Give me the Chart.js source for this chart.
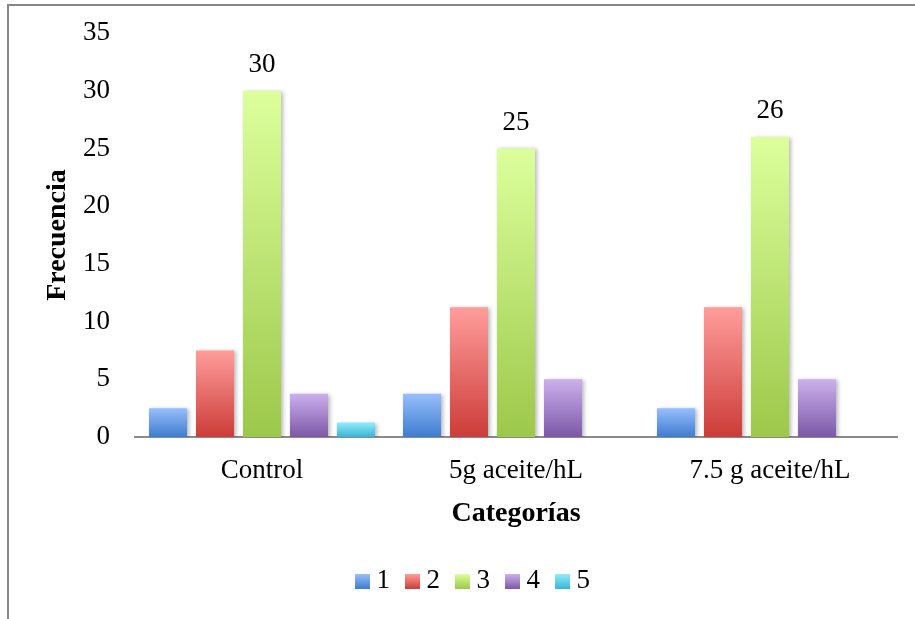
<!DOCTYPE html>
<html>
<head>
<meta charset="utf-8">
<script src="https://cdn.jsdelivr.net/npm/chart.js@4/dist/chart.umd.min.js"></script>
<style>
  html, body { margin: 0; padding: 0; background: #fff; overflow: hidden; }
  #frame { position: absolute; left: 7px; top: 4px; width: 1200px; height: 900px;
           border-top: 2px solid #878787; border-left: 2px solid #878787; }
  #wrap { position: absolute; left: 0; top: 0; width: 915px; height: 619px; }
</style>
</head>
<body>
<div id="frame"></div>
<div id="wrap"><canvas id="chart" width="915" height="619"></canvas></div>
<script>
// Categories and series values
const categories = ['Control', '5g aceite/hL', '7.5 g aceite/hL'];
const seriesNames = ['1', '2', '3', '4', '5'];
const serie1 = [2.5, 3.75, 2.5];
const serie2 = [7.5, 11.25, 11.25];
const serie3 = [30, 25, 26];
const serie4 = [3.75, 5, 5];
const serie5 = [1.25, 0, 0];
const yMin = 0, yMax = 35, yStep = 5;
const labelledSeries = 2; // only series "3" carries value labels

// Gradient colour pairs (top, bottom) for each series
const palette = [
  ['#97bffc', '#3e7ccf'],
  ['#ff9d9b', '#cc3c38'],
  ['#dcff9c', '#9cc84a'],
  ['#cbb0ec', '#7c58a8'],
  ['#92ecfc', '#38b4d4']
];

const FONT = "'Liberation Serif', 'Times New Roman', serif";
Chart.defaults.font.family = FONT;
Chart.defaults.color = '#000';

function barGradient(top, bottom) {
  return (c) => {
    if (c.type !== 'data') return bottom;
    const chart = c.chart;
    const y = chart.scales && chart.scales.y;
    if (!y) return bottom;
    const y0 = y.getPixelForValue(0);
    const y1 = y.getPixelForValue(c.raw);
    if (!isFinite(y0) || !isFinite(y1) || y0 === y1) return bottom;
    const g = chart.ctx.createLinearGradient(0, y1, 0, y0);
    g.addColorStop(0, top);
    g.addColorStop(1, bottom);
    return g;
  };
}

const seriesValues = [serie1, serie2, serie3, serie4, serie5];
const datasets = seriesValues.map((vals, i) => ({
  label: seriesNames[i],
  data: vals,
  backgroundColor: barGradient(palette[i][0], palette[i][1]),
  borderWidth: 0,
  categoryPercentage: 0.925,
  barPercentage: 0.81
}));

// Soft shadow behind the bars
const barShadow = {
  id: 'barShadow',
  beforeDatasetsDraw(chart) {
    const c = chart.ctx;
    c.save();
    c.shadowColor = 'rgba(0,0,0,0.28)';
    c.shadowBlur = 4;
    c.shadowOffsetX = 2;
    c.shadowOffsetY = 1;
  },
  afterDatasetsDraw(chart) { chart.ctx.restore(); }
};

// Value labels above the bars of one series, and gradient legend swatches
const decorations = {
  id: 'decorations',
  afterDraw(chart) {
    const c = chart.ctx;
    const meta = chart.getDatasetMeta(labelledSeries);
    const vals = chart.data.datasets[labelledSeries].data;
    c.save();
    c.font = '27px ' + FONT;
    c.fillStyle = '#000';
    c.textAlign = 'center';
    c.textBaseline = 'middle';
    meta.data.forEach((bar, i) => {
      c.fillText(String(vals[i]), bar.x, bar.y - 26);
    });
    c.restore();

    const lg = chart.legend;
    if (lg && lg.legendHitBoxes) {
      lg.legendHitBoxes.forEach((hb, i) => {
        const size = 15;
        const x = hb.left;
        const y = hb.top + hb.height / 2 - size / 2 + 0.5;
        const g = c.createLinearGradient(0, y, 0, y + size);
        g.addColorStop(0, palette[i][0]);
        g.addColorStop(1, palette[i][1]);
        c.save();
        c.fillStyle = g;
        c.fillRect(x, y, size, size);
        c.restore();
      });
    }
  }
};

new Chart(document.getElementById('chart'), {
  type: 'bar',
  data: { labels: categories, datasets },
  plugins: [barShadow, decorations],
  options: {
    responsive: false,
    animation: false,
    layout: { padding: { left: 48, right: 18, top: 33, bottom: 14.5 } },
    plugins: {
      tooltip: { enabled: false },
      legend: {
        position: 'bottom',
        labels: {
          boxWidth: 8,
          boxHeight: 15,
          padding: 15,
          font: { size: 27, family: FONT },
          color: '#000',
          generateLabels: (chart) => chart.data.datasets.map((ds, i) => ({
            text: ds.label,
            fillStyle: 'rgba(0,0,0,0)',
            strokeStyle: 'rgba(0,0,0,0)',
            lineWidth: 0,
            hidden: false,
            datasetIndex: i,
            fontColor: '#000'
          }))
        }
      }
    },
    scales: {
      x: {
        grid: { display: false, drawTicks: false, tickLength: 0 },
        border: { display: true, color: '#8a8a8a', width: 2 },
        ticks: { padding: 18, font: { size: 27, family: FONT }, color: '#000', maxRotation: 0 },
        title: {
          display: true, text: 'Categorías', color: '#000',
          font: { size: 28, weight: 'bold', family: FONT },
          padding: { top: 0, bottom: 21.7 }
        },
        afterFit(scale) { scale.height = 115.5; }
      },
      y: {
        min: yMin, max: yMax,
        grid: { display: false, drawTicks: false, tickLength: 0 },
        border: { display: false },
        ticks: { stepSize: yStep, padding: 25, font: { size: 27, family: FONT, lineHeight: 0.55 }, color: '#000' },
        title: {
          display: true, text: 'Frecuencia', color: '#000',
          font: { size: 28, weight: 'bold', family: FONT },
          padding: { top: -6.8, bottom: 0 }
        },
        afterFit(scale) { scale.width = 87; }
      }
    }
  }
});
</script>
</body>
</html>
